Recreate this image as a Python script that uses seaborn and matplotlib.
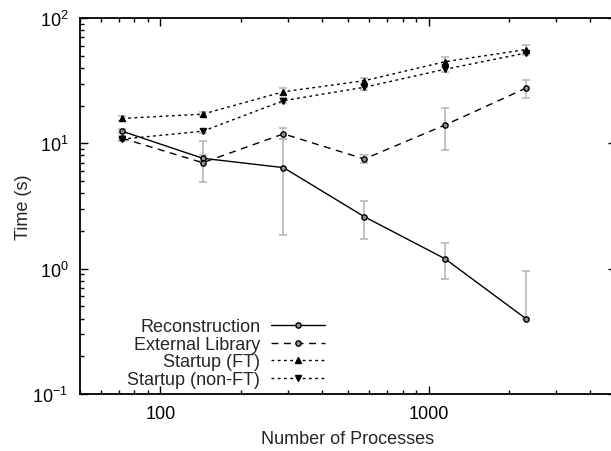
import matplotlib
matplotlib.use("Agg")
import matplotlib.pyplot as plt
import matplotlib.ticker as mticker
import numpy as np
import pandas as pd
import seaborn as sns

processes = [72, 144, 288, 576, 1152, 2304]

series_names = ["Reconstruction", "External Library", "Startup (FT)", "Startup (non-FT)"]

recon = [12.5, 7.6, 6.4, 2.6, 1.2, 0.40]
recon_lo = [12.0, 7.2, 1.85, 1.72, 0.83, 0.40]
recon_hi = [13.0, 8.1, 10.8, 3.48, 1.59, 0.96]

ext_lib = [11.0, 7.0, 11.9, 7.5, 14.0, 27.5]
ext_lo = [10.5, 4.9, 10.8, 7.0, 8.85, 23.0]
ext_hi = [11.5, 10.4, 13.2, 8.1, 19.0, 32.0]

start_ft = [15.8, 17.1, 25.8, 31.6, 44.8, 56.0]
ft_lo = [15.0, 16.4, 24.3, 30.0, 42.0, 53.0]
ft_hi = [16.6, 17.8, 27.5, 33.3, 49.0, 61.0]

start_nonft = [10.8, 12.5, 21.9, 28.0, 39.0, 52.5]
nonft_lo = [10.4, 12.0, 20.8, 26.8, 37.0, 50.7]
nonft_hi = [11.2, 13.0, 23.0, 29.2, 41.0, 54.5]

values = [recon, ext_lib, start_ft, start_nonft]
lows = [recon_lo, ext_lo, ft_lo, nonft_lo]
highs = [recon_hi, ext_hi, ft_hi, nonft_hi]

rows = []
for name, vals in zip(series_names, values):
	for p, v in zip(processes, vals):
		rows.append({"series": name, "processes": p, "time": v})
df = pd.DataFrame(rows)

sns.set_theme(style="ticks")
plt.rcParams["font.family"] = ["Liberation Sans", "DejaVu Sans"]
plt.rcParams["mathtext.fontset"] = "custom"
plt.rcParams["mathtext.rm"] = "Liberation Sans"

FS = 13

fig = plt.figure(figsize=(6.11, 4.52), dpi=100)
ax = fig.add_axes([79.5 / 611, (452 - 395) / 452, (616 - 79.5) / 611, (395 - 19) / 452])

# error bars first, under the lines
for vals, lo, hi in zip(values, lows, highs):
	v = np.array(vals)
	yerr = np.vstack([v - np.array(lo), np.array(hi) - v])
	ax.errorbar(processes, v, yerr=yerr, fmt="none", ecolor="#b3b3b3", elinewidth=1.1, capsize=3, capthick=1.1, zorder=1)

markers = {"Reconstruction": "o", "External Library": "o", "Startup (FT)": "^", "Startup (non-FT)": "v"}
dashes = {"Reconstruction": "", "External Library": (5, 4), "Startup (FT)": (2, 2.5), "Startup (non-FT)": (2, 2.5)}

sns.lineplot(data=df, x="processes", y="time", style="series", style_order=series_names,
	markers=markers, dashes=dashes, color="black", linewidth=1.0, markersize=4.2,
	markeredgecolor="black", markeredgewidth=1.0, ax=ax, zorder=3, legend=True)

for line in ax.get_lines():
	if line.get_marker() == "o":
		line.set_markerfacecolor("#909090")
		line.set_markersize(3.8)

ax.set_xscale("log")
ax.set_yscale("log")
ax.set_xlim(50, 5000)
ax.set_ylim(0.1, 100)

ax.xaxis.set_major_locator(mticker.FixedLocator([100, 1000]))
ax.xaxis.set_major_formatter(mticker.FixedFormatter(["100", "1000"]))
ax.xaxis.set_minor_locator(mticker.LogLocator(base=10, subs=np.arange(2, 10), numticks=20))
ax.xaxis.set_minor_formatter(mticker.NullFormatter())
ax.yaxis.set_major_locator(mticker.LogLocator(base=10, numticks=10))
ax.yaxis.set_minor_locator(mticker.LogLocator(base=10, subs=np.arange(2, 10), numticks=20))
ax.yaxis.set_minor_formatter(mticker.NullFormatter())

ax.tick_params(which="both", direction="in", top=True, right=True, width=1.0, colors="black", labelsize=FS)
ax.tick_params(which="major", length=6, pad=8)
ax.tick_params(which="minor", length=3)
for sp in ax.spines.values():
	sp.set_linewidth(1.3)
	sp.set_color("black")

ax.set_xlabel("Number of Processes", fontsize=FS, labelpad=6)
ax.set_ylabel("Time (s)", fontsize=FS, labelpad=0)

handles, labels = ax.get_legend_handles_labels()
ax.legend(handles, labels, loc="lower right", bbox_to_anchor=(0.458, 0.016), markerfirst=False,
	frameon=False, fontsize=FS, handlelength=3.0, handletextpad=0.6, labelspacing=0.03,
	borderaxespad=0.0, borderpad=0.0)

fig.savefig("out.png", dpi=100)
